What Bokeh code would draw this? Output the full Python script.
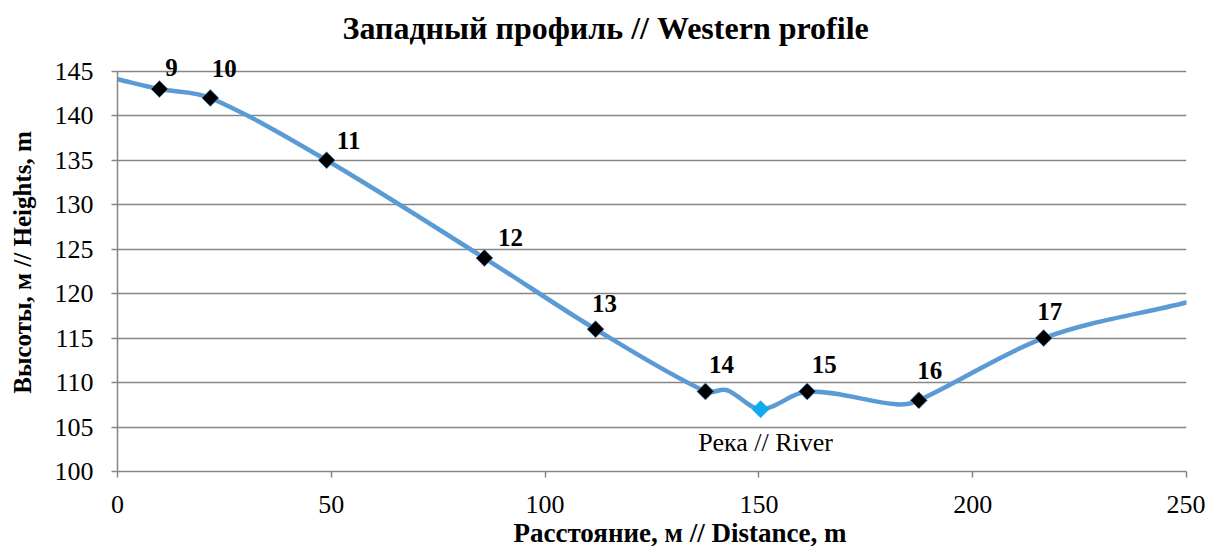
import numpy as np
from bokeh.plotting import figure
from bokeh.models import ColumnDataSource, LabelSet, Range1d, FixedTicker, Title
from bokeh.core.properties import value
from bokeh.embed import file_html
from bokeh.resources import INLINE

# ---- data -------------------------------------------------------------
# profile vertices (labelled points, river and two unlabelled vertices)
line_x = [0, 9.8, 21.7, 48.9, 85.8, 111.8, 137.5, 142.5, 150.4, 161.3, 182.3, 187.4, 216.6, 250]
line_y = [144.1, 143, 142, 135, 124, 116, 109, 109.15, 107, 109, 107.55, 108, 115, 119]

# numbered survey points
point_names = ["9", "10", "11", "12", "13", "14", "15", "16", "17"]
point_x = [9.8, 21.7, 48.9, 85.8, 111.8, 137.5, 161.3, 187.4, 216.6]
point_y = [143, 142, 135, 124, 116, 109, 109, 108, 115]

# river
river_x = [150.4]
river_y = [107]
river_name = ["Река // River"]

x_ticks = [0, 50, 100, 150, 200, 250]
y_ticks = [100, 105, 110, 115, 120, 125, 130, 135, 140, 145]

title_text = "Западный профиль // Western profile"
x_title = "Расстояние, м //  Distance, m"
y_title = "Высоты, м // Heights, m"

# ---- style ------------------------------------------------------------
label_dx = [12, 14, 22, 26, 9, 16, 17, 11, 6]
label_dy = [22, 29, 20, 21, 26, 27, 27, 30, 27]
SERIF = "Liberation Serif"
GRID = "#868686"
LINE = "#5B9BD5"

p = figure(width=1205, height=547, output_backend="svg", toolbar_location=None,
           x_range=Range1d(0, 250), y_range=Range1d(100, 147),
           min_border_left=117, min_border_right=19, min_border_top=53,
           min_border_bottom=75)
p.outline_line_color = None
p.background_fill_color = "white"
p.border_fill_color = "white"

# smoothed line: cubic Hermite segments (drawn as Bezier curves)
px = np.array(line_x, dtype=float)
py = np.array(line_y, dtype=float)
m = np.empty_like(px)
m[1:-1] = (py[2:] - py[:-2]) / (px[2:] - px[:-2])
m[0] = (py[1] - py[0]) / (px[1] - px[0])
m[-1] = (py[-1] - py[-2]) / (px[-1] - px[-2])
h = (px[1:] - px[:-1]) / 3.0
bez = ColumnDataSource(dict(
    x0=px[:-1], y0=py[:-1], x1=px[1:], y1=py[1:],
    cx0=px[:-1] + h, cy0=py[:-1] + m[:-1] * h,
    cx1=px[1:] - h, cy1=py[1:] - m[1:] * h,
))
p.bezier(x0="x0", y0="y0", x1="x1", y1="y1", cx0="cx0", cy0="cy0",
         cx1="cx1", cy1="cy1", source=bez, line_color=LINE, line_width=4.5,
         line_cap="round", line_join="round")

pts = ColumnDataSource(dict(x=point_x, y=point_y, name=point_names,
                            dx=label_dx, dy=label_dy))
p.scatter("x", "y", source=pts, marker="square", size=12, angle=np.pi / 4,
          fill_color="black", line_color=LINE, line_width=0.8)
riv = ColumnDataSource(dict(x=river_x, y=river_y, name=river_name))
p.scatter("x", "y", source=riv, marker="square", size=12, angle=np.pi / 4,
          fill_color="#0FAAEF", line_color="#0FAAEF", line_width=0.8)

p.add_layout(LabelSet(x="x", y="y", text="name", source=pts, x_offset="dx",
                      y_offset="dy", text_font=value(SERIF), text_font_size="25px",
                      text_font_style="bold", text_color="black",
                      text_align="center", text_baseline="middle"))
p.add_layout(LabelSet(x="x", y="y", text="name", source=riv, x_offset=5,
                      y_offset=-33, text_font=value(SERIF), text_font_size="26px",
                      text_color="black", text_align="center",
                      text_baseline="middle"))

# axes
for ax in (p.xaxis[0], p.yaxis[0]):
    ax.axis_line_color = GRID
    ax.axis_line_width = 1.5
    ax.major_tick_line_color = GRID
    ax.major_tick_line_width = 1.5
    ax.major_tick_out = 6
    ax.major_tick_in = 0
    ax.minor_tick_line_color = None
    ax.major_label_text_font = SERIF
    ax.major_label_text_font_size = "26px"
    ax.major_label_text_color = "black"
p.xaxis.ticker = FixedTicker(ticks=x_ticks)
p.yaxis.ticker = FixedTicker(ticks=y_ticks)
p.yaxis.bounds = (100, 145)
p.xaxis.major_label_standoff = 18
p.yaxis.major_label_standoff = 18
p.yaxis.axis_label = y_title
p.yaxis.axis_label_text_font = SERIF
p.yaxis.axis_label_text_font_size = "25px"
p.yaxis.axis_label_text_font_style = "bold"
p.yaxis.axis_label_text_color = "black"
p.yaxis.axis_label_standoff = 16
p.xgrid.visible = False
p.ygrid.ticker = FixedTicker(ticks=y_ticks)
p.ygrid.grid_line_color = GRID
p.ygrid.grid_line_width = 1.5

# chart title and x-axis title
p.add_layout(Title(text=title_text, text_font=SERIF, text_font_size="32px",
                   text_font_style="bold", text_color="black", align="left",
                   offset=225, standoff=15), "above")
p.add_layout(Title(text=x_title, text_font=SERIF, text_font_size="27px",
                   text_font_style="bold", text_color="black", align="left",
                   offset=396, standoff=0), "below")

open("out.html", "w").write(file_html(p, INLINE))
